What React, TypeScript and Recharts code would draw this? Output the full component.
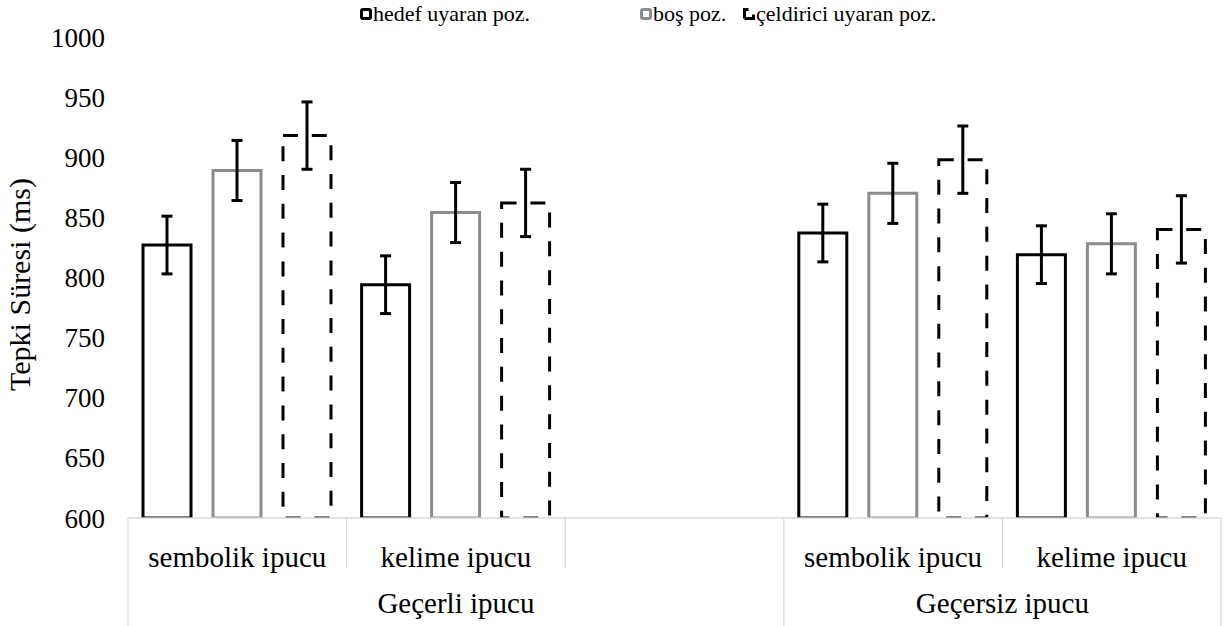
import React from 'react';
import { BarChart, Bar, XAxis, YAxis, ErrorBar, Label } from 'recharts';

// kategori ekseni (iki seviyeli: alt etiket + grup)
const categories = ['sembolik ipucu', 'kelime ipucu', '', 'sembolik ipucu', 'kelime ipucu'];
const groupLabels = ['Geçerli ipucu', 'Geçersiz ipucu'];
const groupSizes = [3, 2];

// ortalama tepki süreleri (ms)
const hedef = [827, 794, null, 837, 819];
const bos = [889, 854, null, 870, 828];
const celdirici = [918, 862, null, 898, 840];

// hata çubukları
const hedefErr = [24, 24, null, 24, 24];
const bosErr = [25, 25, null, 25, 25];
const celdiriciErr = [28, 28, null, 28, 28];

const yTicks = [600, 650, 700, 750, 800, 850, 900, 950, 1000];

const seriesNames = ['hedef uyaran poz.', 'boş poz.', 'çeldirici uyaran poz.'];

const data = categories.map((cat, i) => ({
  idx: i,
  cat,
  hedef: hedef[i],
  bos: bos[i],
  celdirici: celdirici[i],
  hedefErr: hedefErr[i],
  bosErr: bosErr[i],
  celdiriciErr: celdiriciErr[i],
}));

const W = 1224;
const H = 626;
const FONT = '"Liberation Serif", "Times New Roman", serif';
const AXIS_GRAY = '#d9d9d9';
const GRAY = '#8c8c8c';
const Y_AXIS_W = 128;
const MARGIN = { top: 37, right: 3, bottom: 0, left: 0 };
const BAND = (W - Y_AXIS_W - MARGIN.right) / categories.length;

const groupStarts = groupSizes.map((_, g) => groupSizes.slice(0, g).reduce((a, b) => a + b, 0));

function CategoryTick(props: any) {
  const { x, y, payload } = props;
  const i = payload.value as number;
  const half = payload.offset || BAND / 2;
  const left = x - half;
  const g = groupStarts.indexOf(i);
  const isLast = i === categories.length - 1;
  return (
    <g>
      <line x1={left} x2={left} y1={y} y2={y + (g >= 0 ? 108 : 50)} stroke={AXIS_GRAY} strokeWidth={1.3} />
      {isLast && (
        <line x1={x + half} x2={x + half} y1={y} y2={y + 108} stroke={AXIS_GRAY} strokeWidth={1.3} />
      )}
      <text x={x} y={y + 49} textAnchor="middle" fontSize={29} fontFamily={FONT} fill="#000">
        {categories[i]}
      </text>
      {g >= 0 && (
        <text x={left + groupSizes[g] * half} y={y + 95} textAnchor="middle" fontSize={29} fontFamily={FONT} fill="#000">
          {groupLabels[g]}
        </text>
      )}
    </g>
  );
}

function YTitle(props: any) {
  const vb = props.viewBox || { x: 0, y: 0, height: 0 };
  const cx = 30;
  const cy = vb.y + vb.height / 2 + 7;
  return (
    <text
      x={cx}
      y={cy}
      transform={`rotate(-90, ${cx}, ${cy})`}
      textAnchor="middle"
      fontSize={30}
      fontFamily={FONT}
      fill="#000"
    >
      Tepki Süresi (ms)
    </text>
  );
}

function LegendMark({ kind }: { kind: number }) {
  if (kind === 2) {
    return (
      <svg width={12} height={12} style={{ display: 'block' }}>
        <path d="M1.5 10.5 V1.5 H5.5 M1.5 10.5 H10.5 V6.5" fill="none" stroke="#000" strokeWidth={3} />
      </svg>
    );
  }
  return (
    <svg width={12} height={12} style={{ display: 'block' }}>
      <rect x={1.5} y={1.5} width={9} height={9} rx={1.5} fill="#fff" stroke={kind === 0 ? '#000' : GRAY} strokeWidth={3} />
    </svg>
  );
}

const legendLeft = [360, 640, 743];

export default function App() {
  return (
    <div style={{ position: 'absolute', left: 0, top: 0, width: W, height: H, background: '#fff' }}>
      <BarChart width={W} height={H} data={data} margin={MARGIN} barSize={48} barGap={22}>
        <XAxis
          dataKey="idx"
          xAxisId={0}
          interval={0}
          height={108}
          tickLine={false}
          tickSize={0}
          tickMargin={0}
          axisLine={{ stroke: AXIS_GRAY, strokeWidth: 1.3 }}
          tick={<CategoryTick />}
        />
        <YAxis
          width={Y_AXIS_W}
          domain={[600, 1000]}
          ticks={yTicks}
          allowDataOverflow
          axisLine={false}
          tickLine={false}
          tickSize={0}
          tickMargin={23}
          tick={{ fontSize: 27, fontFamily: FONT, fill: '#000' }}
        >
          <Label content={<YTitle />} />
        </YAxis>
        <Bar dataKey="hedef" fill="#fff" stroke="#000" strokeWidth={3} isAnimationActive={false}>
          <ErrorBar dataKey="hedefErr" width={5.5} stroke="#000" strokeWidth={3} direction="y" />
        </Bar>
        <Bar dataKey="bos" fill="#fff" stroke={GRAY} strokeWidth={3} isAnimationActive={false}>
          <ErrorBar dataKey="bosErr" width={5.5} stroke="#000" strokeWidth={3} direction="y" />
        </Bar>
        <Bar
          dataKey="celdirici"
          fill="#fff"
          stroke="#000"
          strokeWidth={3}
          strokeDasharray="15 13.8"
          isAnimationActive={false}
        >
          <ErrorBar dataKey="celdiriciErr" width={5.5} stroke="#000" strokeWidth={3} direction="y" />
        </Bar>
      </BarChart>
      {seriesNames.map((name, k) => (
        <div
          key={name}
          style={{
            position: 'absolute',
            left: legendLeft[k],
            top: 1,
            display: 'flex',
            alignItems: 'center',
            gap: 1,
            fontFamily: FONT,
            fontSize: 22,
            color: '#000',
            whiteSpace: 'nowrap',
          }}
        >
          <LegendMark kind={k} />
          <span>{name}</span>
        </div>
      ))}
    </div>
  );
}
